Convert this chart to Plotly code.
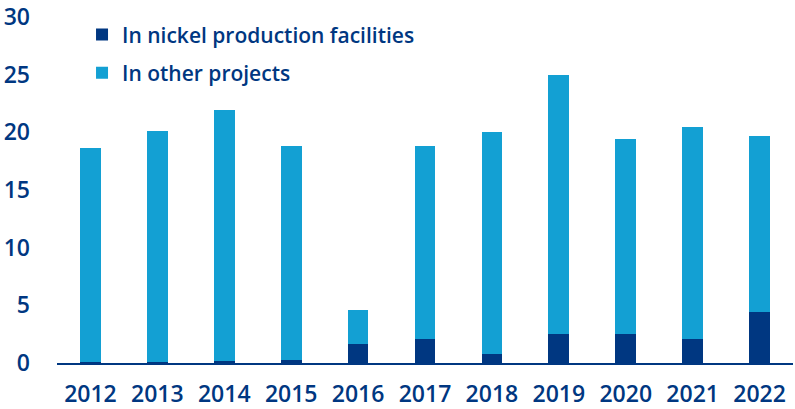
import plotly.graph_objects as go

years = ["2012", "2013", "2014", "2015", "2016", "2017", "2018", "2019", "2020", "2021", "2022"]
nickel = [0.05, 0.05, 0.2, 0.3, 1.65, 2.05, 0.75, 2.5, 2.55, 2.1, 4.45]
totals = [18.6, 20.1, 21.9, 18.8, 4.6, 18.8, 20.0, 25.0, 19.4, 20.5, 19.7]
other = [round(t - n, 2) for t, n in zip(totals, nickel)]

NAVY = "#003781"
LIGHT = "#13A0D3"
FONT = "Open Sans"

fig = go.Figure()
fig.add_trace(go.Bar(x=years, y=nickel, name="In nickel production facilities",
                     marker=dict(color=NAVY, line=dict(width=0)), legendgroup="a"))
fig.add_trace(go.Bar(x=years, y=other, name="In other projects",
                     marker=dict(color=LIGHT, line=dict(width=0)), legendgroup="b"))

fig.update_layout(
    width=795, height=409,
    margin=dict(l=57, r=2, t=17, b=46, autoexpand=False),
    barmode="stack", bargap=0.69,
    plot_bgcolor="white", paper_bgcolor="white",
    font=dict(family=FONT, color=NAVY, size=23, weight=600),
    showlegend=True,
    legend=dict(x=0.034, xanchor="left", y=1.008, yanchor="top",
                traceorder="grouped", tracegroupgap=8,
                font=dict(size=21, color=NAVY, weight=600), bgcolor="rgba(0,0,0,0)"),
    xaxis=dict(showgrid=False, showline=True, linecolor=NAVY, linewidth=2,
               ticks="", ticklabelstandoff=9, automargin=False,
               tickfont=dict(size=23, weight=600)),
    yaxis=dict(range=[0, 30], tickvals=[0, 5, 10, 15, 20, 25, 30],
               showgrid=False, zeroline=False, showline=False, ticks="",
               ticklabelstandoff=26, automargin=False,
               tickfont=dict(size=23, weight=600)),
)

fig.write_html("out.html")
